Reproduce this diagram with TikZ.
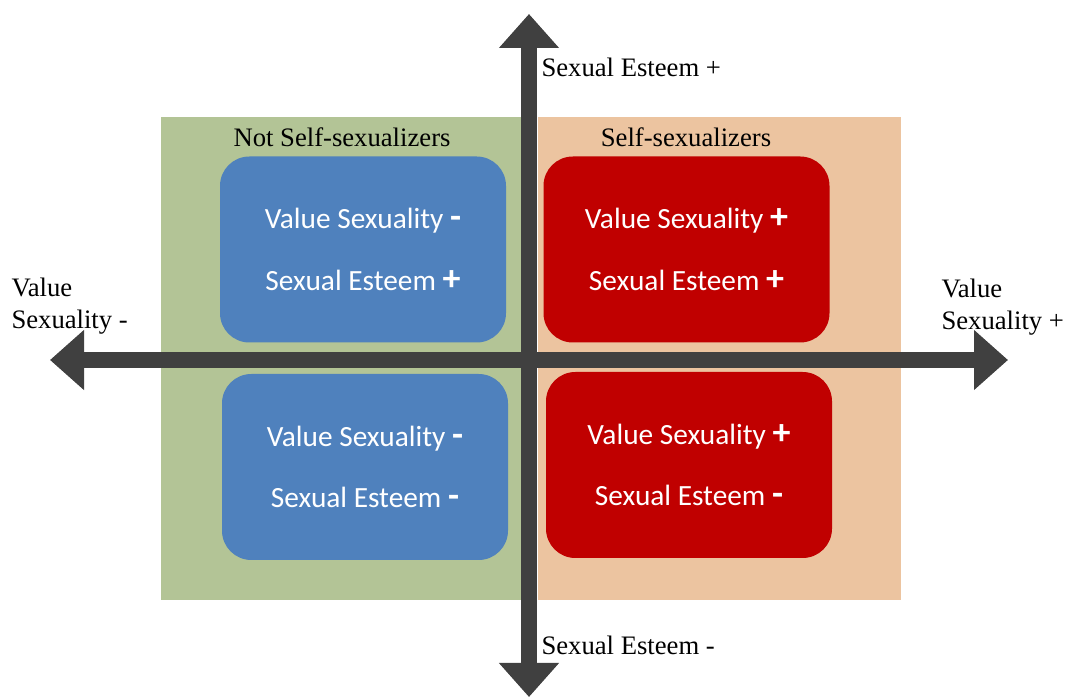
\documentclass[tikz,border=0pt]{standalone}
\usepackage{fontspec}
\setmainfont{Liberation Serif}
\newfontfamily\boxfont{Carlito}
\usetikzlibrary{arrows.meta}

\definecolor{axisgray}{RGB}{64,64,64}
\definecolor{notsexgreen}{RGB}{179,196,150}
\definecolor{sexorange}{RGB}{236,196,160}
\definecolor{cellblue}{RGB}{79,129,189}
\definecolor{cellred}{RGB}{192,0,0}

\newcommand{\sgn}[1]{\textbf{\fontsize{27}{27}\selectfont #1}}

\tikzset{
  every picture/.style={line width=0.75pt},
  cell/.style={rounded corners=22pt, minimum width=214.5pt, minimum height=139.5pt,
    text=white, align=center, font=\boxfont\fontsize{22}{46}\selectfont},
  axis/.style={axisgray, line width=12pt, {Triangle[length=25.5pt,width=43.5pt]}-{Triangle[length=25.5pt,width=43.5pt]}},
  axislabel/.style={anchor=west, inner sep=0.75pt, align=left, font=\fontsize{20}{24}\selectfont},
}

\begin{document}
\begin{tikzpicture}[x=0.75pt,y=0.75pt,yscale=-1,xscale=1]
\useasboundingbox (0,0) rectangle (1065,698);

% Quadrant backgrounds
\fill [notsexgreen] (161,117) rectangle (522,600);
\fill [sexorange] (538,117) rectangle (901,600);

% Rounded cells
\node (nslow) [cell, fill=cellblue] at (363,249.5) {Value Sexuality \sgn{-}\\Sexual Esteem \sgn{+}};
\node (nshigh) [cell, fill=cellblue] at (365,467) {Value Sexuality \sgn{-}\\Sexual Esteem \sgn{-}};
\node (sshigh) [cell, fill=cellred] at (686.5,249.5) {Value Sexuality \sgn{+}\\Sexual Esteem \sgn{+}};
\node (sslow) [cell, fill=cellred] at (689,465) {Value Sexuality \sgn{+}\\Sexual Esteem \sgn{-}};

% Axis ends
\coordinate (ytop) at (529,14);
\coordinate (ybot) at (529,697);
\coordinate (xleft) at (50,360);
\coordinate (xright) at (1008,360);

% Axes
\draw [axis] (ybot) -- (ytop);
\draw [axis] (xleft) -- (xright);

% Text Node
\node (esteemplus) [axislabel] at (540,67) {Sexual Esteem +};
% Text Node
\node (esteemminus) [axislabel] at (540,645) {Sexual Esteem -};
% Text Node
\node (valueminus) [axislabel] at (10,306) {Value\\Sexuality -};
% Text Node
\node (valueplus) [axislabel] at (940,307) {Value\\Sexuality +};
% Text Node
\node (notself) [inner sep=0.75pt, font=\fontsize{20}{24}\selectfont] at (342,137) {Not Self-sexualizers};
% Text Node
\node (self) [inner sep=0.75pt, font=\fontsize{20}{24}\selectfont] at (686,137) {Self-sexualizers};

\end{tikzpicture}
\end{document}
